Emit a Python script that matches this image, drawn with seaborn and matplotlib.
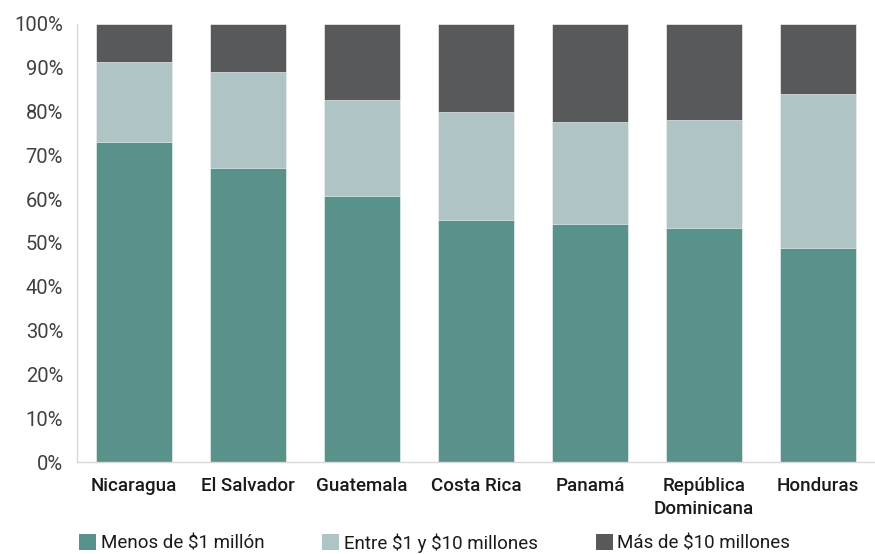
import matplotlib
matplotlib.use("Agg")
import matplotlib.pyplot as plt
from matplotlib.patches import Patch
from matplotlib.ticker import PercentFormatter, FixedLocator
import numpy as np
import pandas as pd
import seaborn as sns

paises = ["Nicaragua", "El Salvador", "Guatemala", "Costa Rica", "Panamá",
          "República\nDominicana", "Honduras"]
menos_1m = [73.1, 67.2, 60.8, 55.3, 54.4, 53.5, 48.9]
entre_1_10m = [18.2, 21.8, 21.8, 24.6, 23.2, 24.6, 35.1]
mas_10m = [8.7, 11.0, 17.4, 20.1, 22.4, 21.9, 16.0]

series = [r"Menos de \$1 millón", r"Entre \$1 y \$10 millones", r"Más de \$10 millones"]
colores = ["#58928B", "#AEC4C5", "#58595B"]

sns.set_theme(style="white")
plt.rcParams["font.family"] = ["Roboto", "DejaVu Sans"]

df = pd.DataFrame({"pais": paises, "s1": menos_1m, "s2": entre_1_10m, "s3": mas_10m})
df["c1"] = df["s1"]
df["c2"] = df["s1"] + df["s2"]
df["c3"] = df["c2"] + df["s3"]

fig = plt.figure(figsize=(8.75, 5.54), dpi=100)
ax = fig.add_axes([0.088, 0.166, 0.912, 0.791])

# stacked bars: draw cumulative totals from the top down
for col, color in zip(["c3", "c2", "c1"], colores[::-1]):
    sns.barplot(data=df, x="pais", y=col, color=color, width=0.667,
                edgecolor="white", linewidth=0.4, saturation=1, ax=ax)

ax.set_ylim(0, 100)
ax.set_xlim(-0.5, len(paises) - 0.5)
ax.yaxis.set_major_locator(FixedLocator(np.arange(0, 101, 10)))
ax.yaxis.set_major_formatter(PercentFormatter(decimals=0))
ax.set_xlabel("")
ax.set_ylabel("")

for s in ["top", "right"]:
    ax.spines[s].set_visible(False)
for s in ["left", "bottom"]:
    ax.spines[s].set_color("#D9D9D9")
    ax.spines[s].set_linewidth(1.0)

ax.tick_params(axis="y", which="major", length=5, color="#D9D9D9", width=1,
               labelsize=14.5, labelcolor="#404040", pad=5)
ax.tick_params(axis="x", which="major", length=0, labelsize=13.5, labelcolor="#1A1A1A", pad=11)
ax.set_xticks(range(len(paises)))
ax.set_xticklabels(paises, fontweight="medium", linespacing=1.3)
ax.xaxis.set_minor_locator(FixedLocator(np.arange(-0.5, len(paises), 1.0)))
ax.tick_params(axis="x", which="minor", length=5, color="#D9D9D9", width=1)

handles = [Patch(facecolor=c, edgecolor="none") for c in colores]
fig.legend(handles, series, loc="lower left", bbox_to_anchor=(0.071, -0.028),
           ncol=3, frameon=False, fontsize=13.5, handlelength=0.9, handleheight=0.9,
           handletextpad=0.25, columnspacing=3.1, labelcolor="#1A1A1A")

fig.savefig("out.png", dpi=100)
